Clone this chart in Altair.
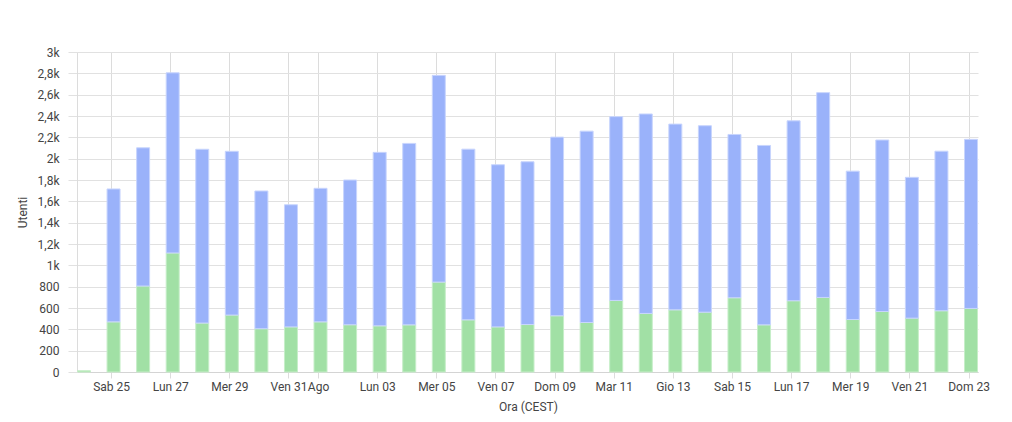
import altair as alt
import pandas as pd

# --- data ---
days = pd.date_range("2018-08-24", "2018-09-23", freq="D").strftime("%Y-%m-%d").tolist()
nuovi = [12, 470, 806, 1116, 459, 534, 406, 423, 470, 443, 433, 442, 843, 489, 423, 445,
         527, 464, 671, 549, 583, 561, 696, 442, 668, 699, 492, 567, 505, 574, 596]
ricorrenti = [0, 1246, 1296, 1689, 1629, 1535, 1291, 1145, 1252, 1357, 1626, 1701, 1938, 1600,
              1520, 1526, 1675, 1794, 1723, 1870, 1741, 1748, 1531, 1682, 1687, 1920, 1391,
              1608, 1320, 1496, 1585]
series_names = ["Nuovi utenti", "Utenti di ritorno"]
series_colors = ["#a1e0a5", "#9ab2fa"]
border_colors = ["#c6eec8", "#c8d5fd"]
tick_days = ["2018-08-25", "2018-08-27", "2018-08-29", "2018-08-31", "2018-09-01",
             "2018-09-03", "2018-09-05", "2018-09-07", "2018-09-09", "2018-09-11",
             "2018-09-13", "2018-09-15", "2018-09-17", "2018-09-19", "2018-09-21",
             "2018-09-23"]
y_ticks = list(range(0, 3001, 200))

rows = []
for d, g, b in zip(days, nuovi, ricorrenti):
    rows.append({"giorno": d, "serie": series_names[0], "ordine": 0, "v": g})
    rows.append({"giorno": d, "serie": series_names[1], "ordine": 1, "v": b})
df = pd.DataFrame(rows)

def ms(s):
    return int(pd.Timestamp(s, tz="UTC").value // 10**6)

tick_ms = [ms(t) for t in tick_days]
HOUR = 3600 * 1000
# bars are UTC midnight shown in CEST (+2h)
dom = [ms("2018-08-24") + 2 * HOUR - int(5.67 * HOUR), ms("2018-09-23") + 2 * HOUR + int(5.67 * HOUR)]

FONT = "Segoe UI, Roboto, sans-serif"
GRID = "#e1e1e1"

label_x = ("utcdate(datum.value) == 1 ? 'Ago' : "
           "['Dom','Lun','Mar','Mer','Gio','Ven','Sab'][utcday(datum.value)] + ' ' + "
           "utcFormat(datum.value, '%d')")
label_y = ("datum.value < 1000 ? format(datum.value, 'd') : "
           "replace(format(datum.value / 1000, '.1~f'), '.', ',') + 'k'")

chart = (
    alt.Chart(df)
    .transform_filter("datum.v > 0")
    .transform_calculate(t=f"time(utcParse(datum.giorno, '%Y-%m-%d')) + {2 * HOUR}")
    .mark_bar(size=13, strokeWidth=1)
    .encode(
        x=alt.X(
            "t:T",
            scale=alt.Scale(type="utc", domain=dom, nice=False, padding=0),
            axis=alt.Axis(
                values=tick_ms, labelExpr=label_x, grid=True, gridColor="#dcdcdc",
                tickColor="#dcdcdc", tickSize=6, domainColor="#d4d4d4",
                labelFont=FONT, labelFontSize=12, labelColor="#444", labelPadding=3,
                title="Ora (CEST)", titleFont=FONT, titleFontSize=12, titleFontWeight="normal",
                titleColor="#444", titleX=451, titleY=34, titleBaseline="middle",
                labelOverlap=False,
            ),
        ),
        y=alt.Y(
            "v:Q",
            stack="zero",
            scale=alt.Scale(domain=[0, 3000], nice=False),
            axis=alt.Axis(
                values=y_ticks, labelExpr=label_y, grid=True, gridColor=GRID,
                tickColor=GRID, tickSize=9, domainColor="#dcdcdc",
                labelFont=FONT, labelFontSize=12, labelColor="#444", labelPadding=9,
                title="Utenti", titleFont=FONT, titleFontSize=12, titleFontWeight="normal",
                titleColor="#444", titleX=-55, titleY=160, titleBaseline="middle",
                titleAngle=270,
            ),
        ),
        color=alt.Color("serie:N", scale=alt.Scale(domain=series_names, range=series_colors),
                        legend=None),
        stroke=alt.Stroke("serie:N", scale=alt.Scale(domain=series_names, range=border_colors),
                          legend=None),
        order=alt.Order("ordine:Q"),
    )
    .properties(
        width=901, height=320,
        autosize=alt.AutoSizeParams(type="none"),
        padding={"left": 69, "top": 44, "right": 26, "bottom": 42},
    )
    .configure_view(strokeWidth=0)
)

chart.save("out.html", embed_options={"renderer": "svg", "actions": False})
